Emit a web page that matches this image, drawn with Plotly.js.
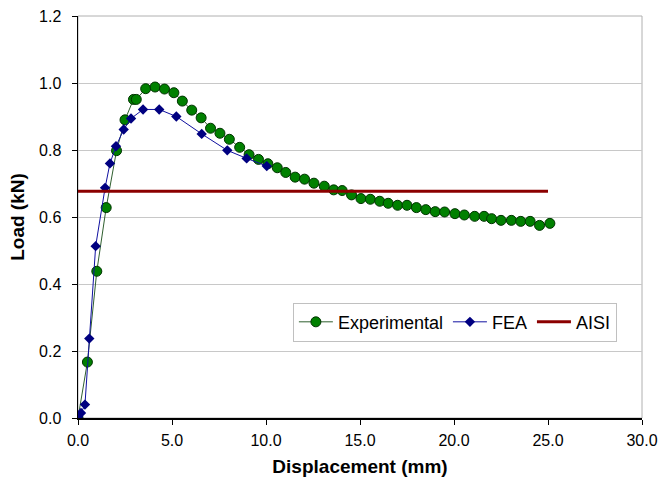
<!DOCTYPE html>
<html>
<head>
<meta charset="utf-8">
<script src="https://cdn.plot.ly/plotly-3.0.1.min.js"></script>
<style>html,body{margin:0;padding:0;background:#fff;}#chart{width:660px;height:483px;}</style>
</head>
<body>
<div id="chart"></div>
<script>
const expX = [0, 0.5, 1.0, 1.5, 2.05, 2.5, 2.95, 3.1, 3.6, 4.1, 4.6, 5.1, 5.55, 6.05, 6.55, 7.05, 7.55, 8.05, 8.6, 9.1, 9.6, 10.1, 10.6, 11.05, 11.55, 12.05, 12.55, 13.1, 13.6, 14.05, 14.55, 15.05, 15.55, 16.05, 16.5, 17.0, 17.5, 18.0, 18.5, 19.0, 19.5, 20.05, 20.55, 21.1, 21.6, 22.0, 22.5, 23.05, 23.55, 24.05, 24.55, 25.1];
const expY = [0, 0.167, 0.438, 0.628, 0.798, 0.89, 0.951, 0.951, 0.983, 0.988, 0.982, 0.971, 0.946, 0.919, 0.896, 0.865, 0.85, 0.832, 0.808, 0.786, 0.772, 0.759, 0.747, 0.733, 0.719, 0.713, 0.701, 0.692, 0.681, 0.679, 0.666, 0.655, 0.653, 0.647, 0.641, 0.635, 0.635, 0.628, 0.622, 0.616, 0.615, 0.61, 0.606, 0.602, 0.602, 0.595, 0.59, 0.59, 0.587, 0.587, 0.575, 0.581];
const feaX = [0, 0.16, 0.37, 0.6, 0.94, 1.44, 1.7, 2.02, 2.43, 2.82, 3.46, 4.32, 5.23, 6.58, 7.94, 8.97, 10.04];
const feaY = [0.003, 0.015, 0.04, 0.237, 0.513, 0.687, 0.76, 0.811, 0.861, 0.894, 0.921, 0.921, 0.9, 0.848, 0.799, 0.775, 0.752];
const aisiX = [0, 25];
const aisiY = [0.677, 0.677];
const xTicks = [0, 5, 10, 15, 20, 25, 30];
const yTicks = [0, 0.2, 0.4, 0.6, 0.8, 1.0, 1.2];

const font = 'Liberation Sans, Arial, sans-serif';
const traces = [
  {x: expX, y: expY, name: 'Experimental', type: 'scatter', mode: 'lines+markers',
   line: {color: '#2f5f2f', width: 1},
   marker: {symbol: 'circle', size: 10, color: '#008000', line: {color: '#003300', width: 1}}},
  {x: feaX, y: feaY, name: 'FEA', type: 'scatter', mode: 'lines+markers',
   line: {color: '#1010a0', width: 1},
   marker: {symbol: 'diamond', size: 8, color: '#000080', line: {color: '#000080', width: 0}}},
  {x: aisiX, y: aisiY, name: 'AISI', type: 'scatter', mode: 'lines',
   line: {color: '#8b0000', width: 3}}
];

const layout = {
  width: 660, height: 483,
  margin: {l: 78, r: 18, t: 16, b: 65},
  paper_bgcolor: '#fff', plot_bgcolor: '#fff',
  font: {family: font, size: 16, color: '#000'},
  showlegend: true,
  legend: {orientation: 'h', x: 0.381, y: 0.287, xanchor: 'left', yanchor: 'top',
           bgcolor: '#fff', bordercolor: '#c0c0c0', borderwidth: 1, itemwidth: 34,
           font: {family: font, size: 18, color: '#000'}},
  xaxis: {range: [0, 30], tickvals: xTicks, tickformat: '.1f', ticks: 'outside', ticklen: 5,
          tickcolor: '#000', showline: true, linecolor: '#000', linewidth: 1.5, showgrid: false,
          zeroline: false, tickfont: {size: 16}, ticklabelstandoff: 2,
          title: {text: '<b>Displacement (mm)</b>', font: {size: 19}, standoff: 12}},
  yaxis: {range: [0, 1.2], tickvals: yTicks, tickformat: '.1f', ticks: 'outside', ticklen: 5,
          tickcolor: '#000', showline: true, linecolor: '#000', linewidth: 1.5, showgrid: true,
          gridcolor: '#c8c8c8', gridwidth: 1, zeroline: false, tickfont: {size: 16},
          ticklabelstandoff: 7,
          title: {text: '<b>Load (kN)</b>', font: {size: 19}, standoff: 9}},
  shapes: [{type: 'rect', xref: 'paper', yref: 'paper', x0: 0, x1: 1, y0: 0, y1: 1,
            line: {color: '#b0b0b0', width: 1}, layer: 'below'}]
};
Plotly.newPlot('chart', traces, layout, {displayModeBar: false, staticPlot: true});
</script>
</body>
</html>
